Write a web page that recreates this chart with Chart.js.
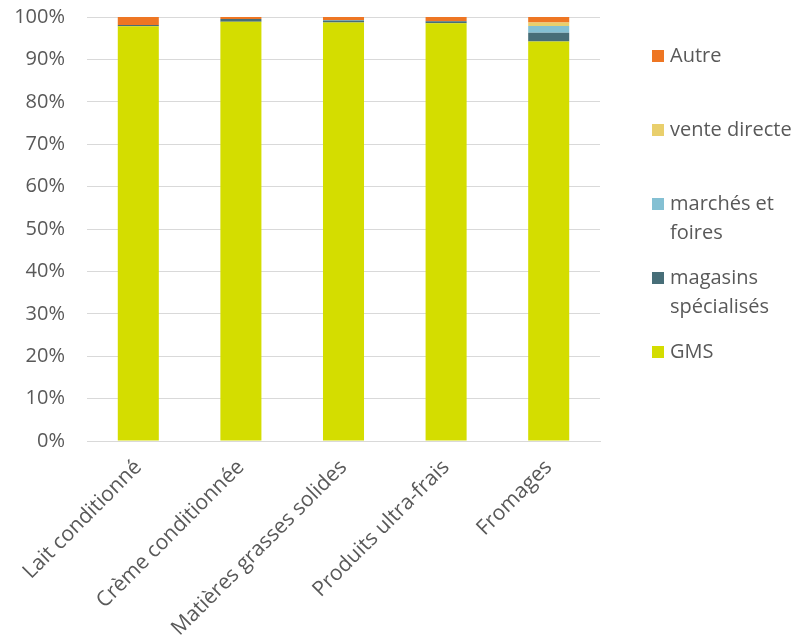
<!DOCTYPE html>
<html><head><meta charset="utf-8">
<script src="https://cdn.jsdelivr.net/npm/chart.js@4/dist/chart.umd.min.js"></script>
<style>html,body{margin:0;padding:0;background:#fff}#w{width:800px;height:641px}</style>
</head><body><div id="w"><canvas id="c"></canvas></div>
<script>
const categories = ["Lait conditionné", "Crème conditionnée", "Matières grasses solides", "Produits ultra-frais", "Fromages"];
const gms = [97.8, 98.9, 98.7, 98.5, 94.2];
const magasins = [0.3, 0.6, 0.5, 0.5, 2.1];
const marches = [0, 0, 0.1, 0, 1.6];
const venteDirecte = [0, 0, 0, 0, 0.8];
const autre = [1.9, 0.5, 0.7, 1.0, 1.3];
const yTicks = [0, 10, 20, 30, 40, 50, 60, 70, 80, 90, 100];
const legendItems = [
  {label: ["Autre"], color: "#ee7623"},
  {label: ["vente directe"], color: "#e9cf6c"},
  {label: ["marchés et", "foires"], color: "#84c0d3"},
  {label: ["magasins", "spécialisés"], color: "#476e78"},
  {label: ["GMS"], color: "#d4dd00"}
];
const legendY = [56, 130, 204, 278, 352];

const FONT = "'Open Sans', sans-serif";
const TXT = "#595959";

const legendPlugin = {
  id: 'customLegend',
  afterDraw(chart) {
    const ctx = chart.ctx;
    ctx.save();
    ctx.font = "20px " + FONT;
    ctx.textBaseline = "middle";
    legendItems.forEach((it, i) => {
      const y = legendY[i];
      ctx.fillStyle = it.color;
      ctx.fillRect(652, y - 6, 12, 12);
      ctx.fillStyle = TXT;
      it.label.forEach((line, j) => ctx.fillText(line, 670, y + j * 29));
    });
    ctx.restore();
  }
};

const mk = (label, data, color) => ({label, data, backgroundColor: color, borderWidth: 0,
  barPercentage: 0.4, categoryPercentage: 1});

new Chart(document.getElementById('c'), {
  type: 'bar',
  data: {
    labels: categories,
    datasets: [
      mk("GMS", gms, "#d4dd00"),
      mk("magasins spécialisés", magasins, "#476e78"),
      mk("marchés et foires", marches, "#84c0d3"),
      mk("vente directe", venteDirecte, "#e9cf6c"),
      mk("Autre", autre, "#ee7623")
    ]
  },
  options: {
    responsive: true, maintainAspectRatio: false, animation: false,
    layout: {padding: {left: 0, right: 200, top: 17, bottom: 0}},
    plugins: {legend: {display: false}, tooltip: {enabled: false}},
    scales: {
      x: {
        stacked: true,
        afterFit: (s) => { s.height = 200; },
        grid: {display: false, drawTicks: false},
        border: {display: true, color: "#d9d9d9", width: 1},
        ticks: {color: TXT, font: {family: FONT, size: 21}, maxRotation: 45, minRotation: 45, padding: 14, autoSkip: false}
      },
      y: {
        stacked: true, min: 0, max: 100,
        afterFit: (s) => { s.width = 87; },
        afterBuildTicks: (s) => { s.ticks = yTicks.map(v => ({value: v})); },
        grid: {color: "#d9d9d9", drawTicks: true, tickLength: 20, tickColor: "#fff"},
        border: {display: false},
        ticks: {color: TXT, font: {family: FONT, size: 20}, padding: 2, callback: v => v + "%"}
      }
    }
  },
  plugins: [legendPlugin]
});
</script></body></html>
